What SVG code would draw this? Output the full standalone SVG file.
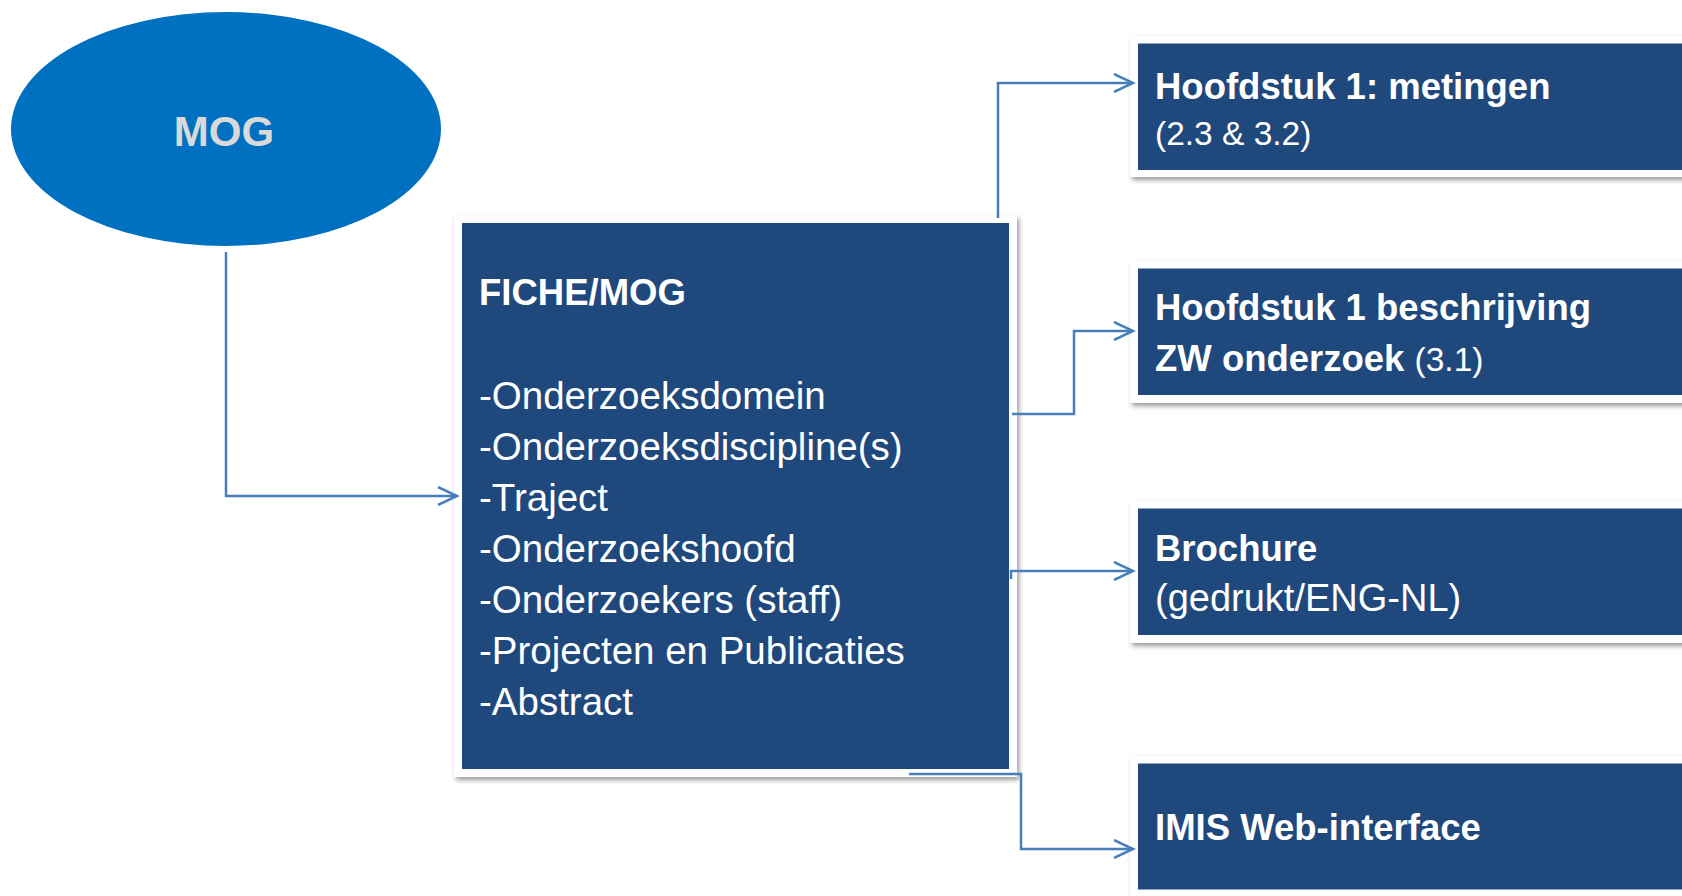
<svg xmlns="http://www.w3.org/2000/svg" width="1682" height="896" viewBox="0 0 1682 896">
<style>
text{font-family:"Liberation Sans",Arial,sans-serif;fill:#fff}
.b{font-weight:bold;font-size:36.5px}
.r{font-size:38.5px}
.s{font-size:33.5px;font-weight:normal}
.frame{fill:#fff;filter:url(#sh)}
.box{fill:#1F497D}
.con{fill:none;stroke:#4A7EBB;stroke-width:2.5;marker-end:url(#arr)}
</style>
<defs>
<filter id="sh" x="-10%" y="-10%" width="120%" height="130%">
<feGaussianBlur in="SourceAlpha" stdDeviation="2.5"/>
<feOffset dx="1.5" dy="3" result="o"/>
<feComponentTransfer><feFuncA type="linear" slope="0.4"/></feComponentTransfer>
<feMerge><feMergeNode/><feMergeNode in="SourceGraphic"/></feMerge>
</filter>
<marker id="arr" markerWidth="24" markerHeight="20" viewBox="0 0 24 20" refX="20" refY="10" orient="auto" markerUnits="userSpaceOnUse">
<path d="M1,1 L20,10 L1,19" fill="none" stroke="#4A7EBB" stroke-width="2.5"/>
</marker>
</defs>
<rect width="1682" height="896" fill="#fff"/>

<g id="mog">
<ellipse cx="226" cy="129" rx="215" ry="117" fill="#0070C0"/>
<text x="224" y="146" text-anchor="middle" style="font-weight:bold;font-size:42px;fill:#D9D9D9">MOG</text>
</g>

<g id="fiche">
<rect class="frame" x="454" y="215" width="563" height="562"/>
<rect class="box" x="462" y="223" width="547" height="546"/>
<text x="479" y="305" class="b">FICHE/MOG</text>
<text class="r">
<tspan x="479" y="408.5">-Onderzoeksdomein</tspan>
<tspan x="479" y="459.5">-Onderzoeksdiscipline(s)</tspan>
<tspan x="479" y="510.5">-Traject</tspan>
<tspan x="479" y="561.5">-Onderzoekshoofd</tspan>
<tspan x="479" y="612.5">-Onderzoekers (staff)</tspan>
<tspan x="479" y="663.5">-Projecten en Publicaties</tspan>
<tspan x="479" y="714.5">-Abstract</tspan>
</text>
</g>

<g id="h1-metingen">
<rect class="frame" x="1130" y="36" width="600" height="141"/>
<rect class="box" x="1138" y="43.5" width="600" height="126.5"/>
<text x="1155" y="99" class="b">Hoofdstuk 1: metingen</text>
<text x="1155" y="145" class="s">(2.3 &amp; 3.2)</text>
</g>

<g id="h1-beschrijving">
<rect class="frame" x="1130" y="261.5" width="600" height="141.5"/>
<rect class="box" x="1138" y="268.5" width="600" height="126.5"/>
<text x="1155" y="320" class="b">Hoofdstuk 1 beschrijving</text>
<text x="1155" y="370.5" class="b">ZW onderzoek <tspan class="s">(3.1)</tspan></text>
</g>

<g id="brochure">
<rect class="frame" x="1130" y="501.5" width="600" height="141.5"/>
<rect class="box" x="1138" y="508.5" width="600" height="126.5"/>
<text x="1155" y="560.5" class="b">Brochure</text>
<text x="1155" y="610.5" style="font-size:38px">(gedrukt/ENG-NL)</text>
</g>

<g id="imis">
<rect class="frame" x="1130" y="756" width="600" height="141"/>
<rect class="box" x="1138" y="763.5" width="600" height="126"/>
<text x="1155" y="840" class="b">IMIS Web-interface</text>
</g>

<g id="connectors">
<path class="con" d="M226,252 V496 H457"/>
<path class="con" d="M998,218 V83 H1133"/>
<path class="con" d="M1012,414 H1074 V331 H1133"/>
<path class="con" d="M1011,579 V571 H1133"/>
<path class="con" d="M909,774 H1021 V849 H1133"/>
</g>
</svg>
